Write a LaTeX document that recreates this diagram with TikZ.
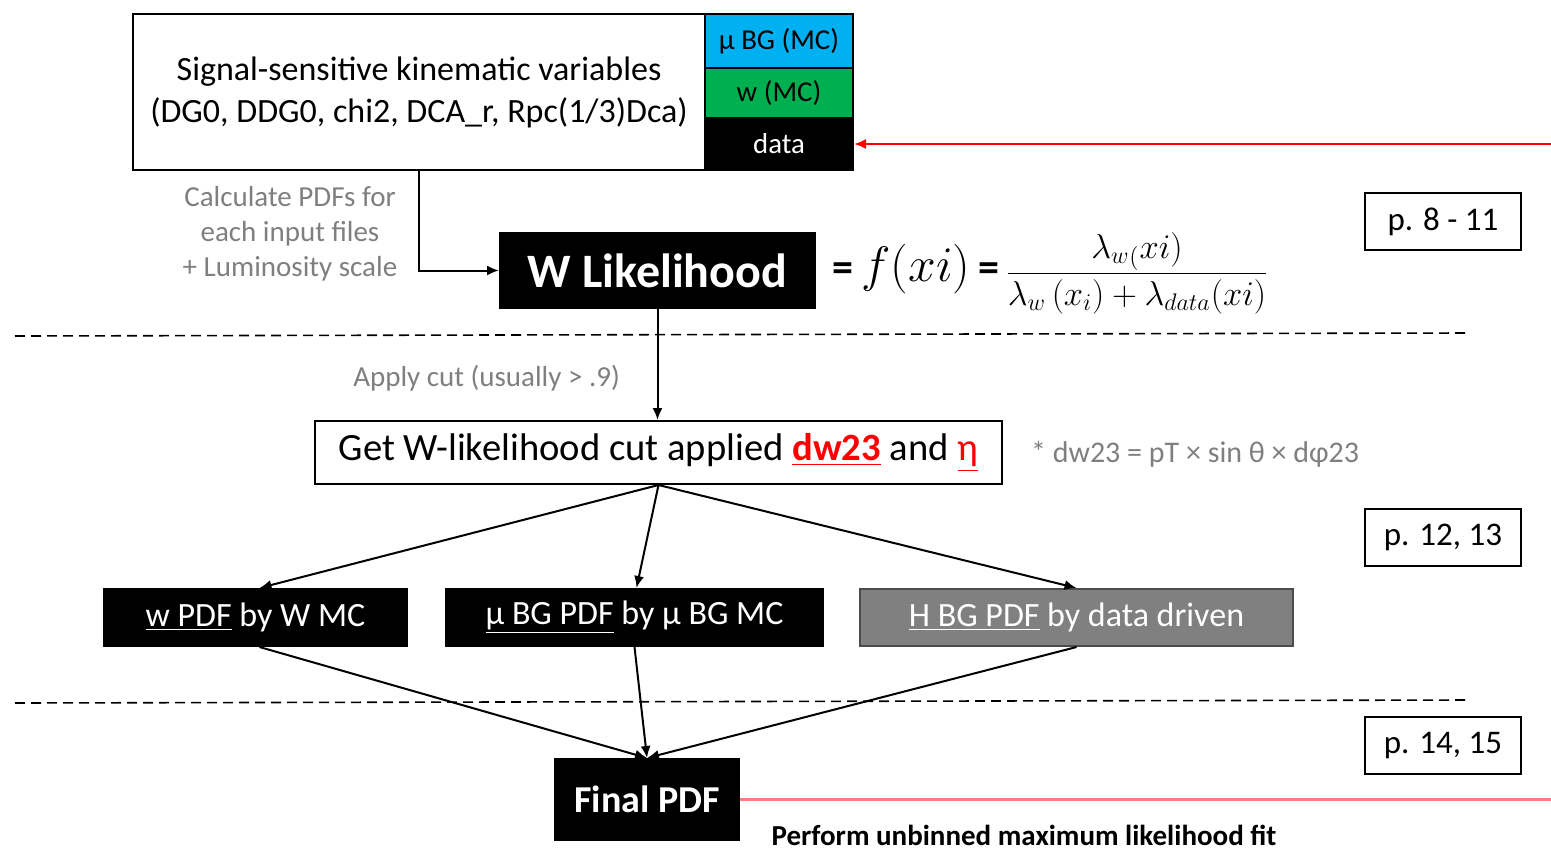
\documentclass[tikz,border=0pt]{standalone}
\usepackage{fontspec}
\setmainfont{Carlito}
\usetikzlibrary{arrows.meta, positioning}

\definecolor{mcblue}{HTML}{00B0F0}
\definecolor{mcgreen}{HTML}{00B050}
\definecolor{notegray}{HTML}{7F7F7F}
\definecolor{boxgray}{HTML}{808080}
\definecolor{fitred}{HTML}{FF7C80}

\begin{document}
\begin{tikzpicture}[x=0.5pt, y=-0.5pt, >={Latex[length=6pt,width=5pt]},
    plain/.style={draw=black, line width=1pt, fill=white, inner sep=0pt, align=center},
    dark/.style={draw=black, line width=1pt, fill=black, text=white, inner sep=0pt, align=center},
    src/.style={draw=black, line width=1pt, inner sep=0pt, minimum width=74pt, font=\fontsize{14.4}{16}\selectfont},
    note/.style={text=notegray, align=center, font=\fontsize{14.5}{17.5}\selectfont},
    pagebox/.style={plain, minimum width=78pt, minimum height=28.5pt, font=\fontsize{16.5}{18}\selectfont},
    flow/.style={->, line width=1pt},
    sep/.style={dashed, line width=0.8pt, dash pattern=on 5pt off 3pt}]

    \useasboundingbox (0,0) rectangle (1551,851);

    % input variables and the three sources
    \node[plain, minimum width=286pt, minimum height=78pt, font=\fontsize{17}{21}\selectfont] (vars) at (419,92)
        {Signal-sensitive kinematic variables\\(DG0, DDG0, chi2, DCA\_r, Rpc(1/3)Dca)};
    \node[src, fill=mcblue, minimum height=27pt] (mubg) at (779,41) {µ BG (MC)};
    \node[src, fill=mcgreen, minimum height=25pt] (wmc) at (779,93) {w (MC)};
    \node[src, fill=black, text=white, minimum height=26pt] (data) at (779,144) {data};
    \coordinate (datain) at (1551,144);

    % likelihood
    \node[dark, minimum width=157.5pt, minimum height=37.5pt, font=\fontsize{24}{26}\selectfont\bfseries] (wlik) at (657.5,270.5) {W Likelihood};
    \node[anchor=west, inner sep=0pt, font=\fontsize{18}{20}\selectfont] (formula) at (832,273)
        {{\fontsize{21}{22}\selectfont\bfseries =} {\fontsize{24}{26}\selectfont$f(xi)$} {\fontsize{21}{22}\selectfont\bfseries =}\,$\displaystyle\frac{\lambda_{w}{}_{(}xi)}{\lambda_{w}\,(x_{i})+\lambda_{data}(xi)}$};
    \node[note] (calc) at (290,234) {Calculate PDFs for\\each input files\\+ Luminosity scale};

    % cut
    \node[plain, minimum width=343.5pt, minimum height=31.5pt, font=\fontsize{19.3}{21}\selectfont] (getcut) at (658.5,452.5)
        {Get W-likelihood cut applied \textcolor{red}{\underline{\textbf{dw23}}} and \textcolor{red}{\underline{η}}};
    \node[note, anchor=east] (apply) at (627,378) {Apply cut (usually > .9)};
    \node[note, anchor=west, font=\fontsize{15}{17}\selectfont] (dwdef) at (1024,454) {* dw23 = pT × sin θ × dφ23};

    % PDFs
    \node[dark, minimum width=151.5pt, minimum height=28.5pt, font=\fontsize{17}{19}\selectfont] (wpdf) at (255.5,617.5) {\underline{w PDF} by W MC};
    \node[dark, minimum width=188.5pt, minimum height=28.5pt, font=\fontsize{17}{19}\selectfont] (mupdf) at (634.5,617.5) {\underline{µ BG PDF} by µ BG MC};
    \node[dark, fill=boxgray, draw=black!70, minimum width=216.5pt, minimum height=28.5pt, font=\fontsize{17}{19}\selectfont] (hpdf) at (1076.5,617.5) {\underline{H BG PDF} by data driven};

    % final fit
    \node[dark, minimum width=92pt, minimum height=40.5pt, font=\fontsize{19}{21}\selectfont\bfseries] (final) at (647,799.5) {Final PDF};
    \node[font=\fontsize{14.5}{16}\selectfont\bfseries, inner sep=0pt] (perform) at (1024,835) {Perform unbinned maximum likelihood fit};
    \coordinate (fitout) at (1551,799.5);

    % page references
    \node[pagebox] (pA) at (1443,221.5) {p. 8 - 11};
    \node[pagebox] (pB) at (1443,537.5) {p. 12, 13};
    \node[pagebox] (pC) at (1443,745.5) {p. 14, 15};

    % separators
    \draw[sep] (15,336) -- (1470,333);
    \draw[sep] (15,703) -- (1470,700);

    % connectors
    \draw[flow] (vars.south) |- (wlik.west);
    \draw[->, red, line width=1pt] (datain) -- (data.east);
    \draw[flow] (wlik.south) -- (wlik.south |- getcut.north);
    \draw[flow] (getcut.south) -- ([xshift=2pt]wpdf.north);
    \draw[flow] (getcut.south) -- ([xshift=1pt]mupdf.north);
    \draw[flow] (getcut.south) -- (hpdf.north);
    \draw[flow] ([xshift=2pt]wpdf.south) -- (final.north);
    \draw[flow] (mupdf.south) -- (final.north);
    \draw[flow] (hpdf.south) -- (final.north);
    \draw[fitred, line width=1.2pt] (final.east) -- (fitout);

\end{tikzpicture}
\end{document}
